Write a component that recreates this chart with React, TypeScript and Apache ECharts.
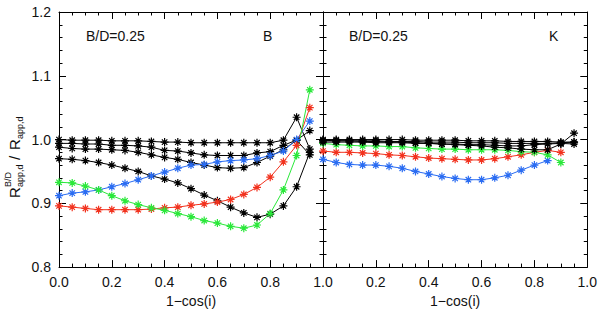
import React, { useEffect, useRef } from "react";
import * as echarts from "echarts";

// inclination coordinate 1-cos(i)
const XS = [0.0, 0.05, 0.1, 0.15, 0.2, 0.25, 0.3, 0.35, 0.4, 0.45, 0.5, 0.55, 0.6, 0.65, 0.7, 0.75, 0.8, 0.85, 0.9, 0.95];

// Left panel: B band
const B_BLACK1 = [1.0, 0.999, 0.999, 0.999, 0.998, 0.998, 0.998, 0.997, 0.996, 0.996, 0.995, 0.995, 0.995, 0.995, 0.995, 0.995, 0.995, 0.999, 1.035, 0.985];
const B_BLACK2 = [0.994, 0.994, 0.993, 0.993, 0.991, 0.991, 0.99, 0.988, 0.983, 0.982, 0.979, 0.976, 0.975, 0.975, 0.975, 0.979, 0.981, 0.991, 0.999, 1.014];
const B_BLACK3 = [0.988, 0.986, 0.985, 0.985, 0.984, 0.983, 0.98, 0.976, 0.972, 0.969, 0.964, 0.96, 0.956, 0.955, 0.956, 0.964, 0.974, 0.984, 0.999, 0.976];
const B_BLACK4 = [0.97, 0.969, 0.967, 0.964, 0.96, 0.955, 0.95, 0.943, 0.938, 0.932, 0.923, 0.913, 0.904, 0.894, 0.885, 0.878, 0.883, 0.896, 0.926, 0.98];
const B_BLUE = [0.912, 0.916, 0.918, 0.921, 0.926, 0.931, 0.937, 0.943, 0.949, 0.955, 0.96, 0.961, 0.965, 0.967, 0.968, 0.97, 0.975, 0.982, 1.0, 1.029];
const B_GREEN = [0.933, 0.932, 0.927, 0.921, 0.912, 0.904, 0.898, 0.893, 0.889, 0.884, 0.879, 0.873, 0.869, 0.864, 0.861, 0.866, 0.884, 0.921, 0.975, 1.078];
const B_RED = [0.896, 0.894, 0.892, 0.89, 0.89, 0.89, 0.89, 0.891, 0.893, 0.894, 0.897, 0.899, 0.902, 0.906, 0.914, 0.925, 0.941, 0.965, 0.991, 1.05];

// Right panel: K band
const K_BLACK1 = [1.0, 1.0, 1.0, 1.0, 1.0, 1.0, 1.0, 0.999, 0.999, 0.999, 0.999, 0.998, 0.998, 0.998, 0.997, 0.997, 0.997, 0.997, 0.996, 0.996];
const K_BLACK2 = [0.998, 0.998, 0.998, 0.998, 0.998, 0.997, 0.997, 0.997, 0.996, 0.996, 0.996, 0.995, 0.995, 0.995, 0.994, 0.994, 0.994, 0.994, 0.995, 0.996];
const K_BLACK3 = [0.996, 0.996, 0.996, 0.996, 0.995, 0.995, 0.995, 0.994, 0.994, 0.993, 0.993, 0.992, 0.992, 0.991, 0.99, 0.99, 0.992, 0.993, 0.994, 0.993];
const K_BLACK4 = [0.999, 0.998, 0.998, 0.997, 0.997, 0.996, 0.996, 0.995, 0.994, 0.993, 0.992, 0.991, 0.99, 0.988, 0.987, 0.985, 0.984, 0.984, 0.993, 1.01];
const K_GREEN = [0.994, 0.992, 0.991, 0.99, 0.99, 0.989, 0.989, 0.987, 0.986, 0.985, 0.985, 0.984, 0.984, 0.984, 0.983, 0.981, 0.98, 0.976, 0.964];
const K_RED = [0.982, 0.98, 0.98, 0.979, 0.978, 0.976, 0.975, 0.973, 0.971, 0.97, 0.969, 0.968, 0.968, 0.97, 0.973, 0.976, 0.98, 0.983, 0.98];
const K_BLUE = [0.969, 0.964, 0.961, 0.96, 0.96, 0.958, 0.955, 0.95, 0.946, 0.942, 0.939, 0.937, 0.937, 0.94, 0.944, 0.952, 0.96, 0.967];

const X_TICKS = ["0.0", "0.2", "0.4", "0.6", "0.8", "1.0"];

const BLACK = "#000000";
const BLUE = "#2a6cf2";
const RED = "#f2321e";
const GREEN = "#2ae83a";

const FONT = "Liberation Sans, Arial, sans-serif";
const STAR = "path://M5,0L5,10M0,5L10,5M1.6,1.6L8.4,8.4M1.6,8.4L8.4,1.6";

function mk(vals: number[], color: string, xi: number) {
  return {
    type: "line",
    xAxisIndex: xi,
    yAxisIndex: xi,
    data: vals.map((v, i) => [XS[i], v]),
    symbol: STAR,
    symbolSize: 8,
    showSymbol: true,
    lineStyle: { color, width: 1 },
    itemStyle: { color, borderColor: color, borderWidth: 1.2 },
    emphasis: { disabled: true },
  };
}

export default function App() {
  const ref = useRef<HTMLDivElement>(null);
  useEffect(() => {
    if (!ref.current) return;
    document.body.style.margin = "0";
    const chart = echarts.init(ref.current, undefined, { renderer: "svg" });
    const axisLine = { show: true, onZero: false, lineStyle: { color: "#000", width: 1 } };
    const axisTick = { show: true, inside: true, length: 7, lineStyle: { color: "#000", width: 1 } };
    const xMinor = { show: true, splitNumber: 4, length: 3.5, lineStyle: { color: "#000", width: 1 } };
    const yMinor = { show: true, splitNumber: 5, length: 3.5, lineStyle: { color: "#000", width: 1 } };
    const xBase = (grid: number, pos: string, labels: boolean, hideMin: boolean) => ({
      type: "value",
      gridIndex: grid,
      position: pos,
      min: 0,
      max: 1,
      interval: 0.2,
      axisLine,
      axisTick,
      minorTick: xMinor,
      splitLine: { show: false },
      minorSplitLine: { show: false },
      axisLabel: {
        show: labels,
        showMinLabel: !hideMin,
        color: "#111",
        fontSize: 14,
        fontFamily: FONT,
        margin: 8,
        formatter: (v: number) => X_TICKS[Math.round(v / 0.2)],
      },
      name: labels ? "1\u2212cos(i)" : "",
      nameLocation: "middle",
      nameGap: 22,
      nameTextStyle: { color: "#111", fontSize: 14, fontFamily: FONT },
    });
    const yBase = (grid: number, pos: string, labels: boolean) => ({
      type: "value",
      gridIndex: grid,
      position: pos,
      min: 0.8,
      max: 1.2,
      interval: 0.1,
      axisLine,
      axisTick,
      minorTick: yMinor,
      splitLine: { show: false },
      minorSplitLine: { show: false },
      axisLabel: {
        show: labels,
        color: "#111",
        fontSize: 14,
        fontFamily: FONT,
        margin: 8,
        formatter: (v: number) => v.toFixed(1),
      },
    });
    const txt = (x: number, y: number, s: string, fs: number, extra: any = {}) => ({
      type: "text",
      x,
      y,
      style: { text: s, fontSize: fs, fontFamily: FONT, fill: "#111", textVerticalAlign: "middle", ...extra },
    });
    chart.setOption({
      animation: false,
      backgroundColor: "#fff",
      grid: [
        { left: 59, top: 12, width: 264, height: 270 },
        { left: 323, top: 12, width: 265, height: 270 },
      ],
      xAxis: [
        xBase(0, "bottom", true, false),
        xBase(0, "top", false, false),
        xBase(1, "bottom", true, true),
        xBase(1, "top", false, false),
      ],
      yAxis: [
        yBase(0, "left", true),
        yBase(0, "right", false),
        yBase(1, "left", false),
        yBase(1, "right", false),
      ],
      series: [
        mk(B_BLACK1, BLACK, 0),
        mk(B_BLACK2, BLACK, 0),
        mk(B_BLACK3, BLACK, 0),
        mk(B_BLACK4, BLACK, 0),
        mk(B_BLUE, BLUE, 0),
        mk(B_RED, RED, 0),
        mk(B_GREEN, GREEN, 0),
        mk(K_BLUE, BLUE, 2),
        mk(K_RED, RED, 2),
        mk(K_GREEN, GREEN, 2),
        mk(K_BLACK1, BLACK, 2),
        mk(K_BLACK2, BLACK, 2),
        mk(K_BLACK3, BLACK, 2),
        mk(K_BLACK4, BLACK, 2),
      ],
      graphic: [
        txt(86, 36, "B/D=0.25", 14),
        txt(263, 36, "B", 14),
        txt(349, 36, "B/D=0.25", 14),
        txt(549, 36, "K", 14),
        {
          type: "group",
          x: 14,
          y: 148,
          rotation: Math.PI / 2,
          children: [
            txt(-50, 0, "R", 15),
            txt(-39, -6, "B/D", 9),
            txt(-39, 6, "app,d", 9),
            txt(-12, 0, "/", 15),
            txt(-2, 0, "R", 15),
            txt(9, 6, "app,d", 9),
          ],
        },
      ],
    });
    return () => chart.dispose();
  }, []);
  return <div ref={ref} style={{ width: 600, height: 313 }} />;
}
